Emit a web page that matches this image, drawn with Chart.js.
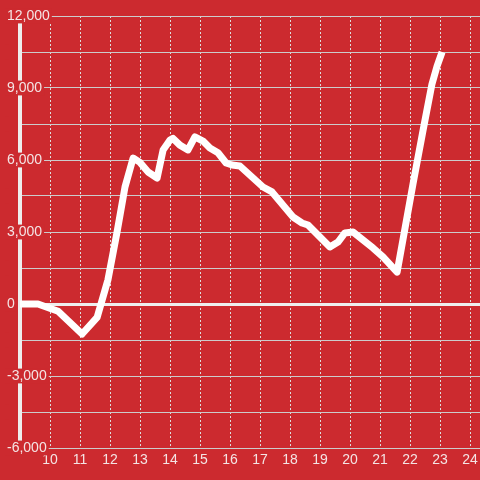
<!DOCTYPE html>
<html>
<head>
<meta charset="utf-8">
<script src="https://cdn.jsdelivr.net/npm/chart.js@4.4.1/dist/chart.umd.min.js"></script>
<style>
	html, body { margin: 0; padding: 0; background: #cc2a2f; }
	#wrap { width: 480px; height: 480px; position: relative; }
</style>
</head>
<body>
<div id="wrap"><canvas id="lineChart"></canvas></div>
<script>
// hour of day and value
const hours = [8.9, 9.6, 10.27, 11.07, 11.57, 11.93, 12.23, 12.5, 12.77, 13.0, 13.27, 13.57, 13.77, 14.0, 14.1, 14.33, 14.6, 14.83,
	15.1, 15.33, 15.6, 15.87, 16.07, 16.33, 17.1, 17.4, 18.1, 18.4, 18.6, 19.33, 19.6, 19.83, 20.1, 20.77, 21.1, 21.57,
	22.1, 22.43, 22.73, 22.9, 23.07];
const values = [0, 0, -300, -1250, -560, 1000, 2960, 4875, 6080, 5900, 5500, 5250, 6420, 6830, 6900, 6620, 6420, 6960,
	6790, 6500, 6300, 5875, 5790, 5750, 4875, 4670, 3625, 3375, 3290, 2375, 2580, 2960, 3000, 2330, 1960, 1330,
	5000, 7200, 9150, 9900, 10500];
const xTicks = [10, 11, 12, 13, 14, 15, 16, 17, 18, 19, 20, 21, 22, 23, 24];
const yTicks = [-6000, -3000, 0, 3000, 6000, 9000, 12000];

const RED = '#cc2a2f';
const TEXT = '#f4e4e4';
const FONT = { family: '"Liberation Sans", Arial, sans-serif', size: 14 };

function buildChart(){
	const CHART = document.getElementById("lineChart");

	new Chart(CHART, {
		type: 'line',
		data: {
			datasets: [
				{
					label: 'value',
					data: hours.map((h, i) => ({ x: h, y: values[i] })),
					borderColor: '#ffffff',
					borderWidth: 7,
					borderCapStyle: 'butt',
					borderJoinStyle: 'round',
					fill: false,
					tension: 0,
					pointRadius: 0,
					pointHoverRadius: 0
				}
			]
		},
		options: {
			responsive: true,
			maintainAspectRatio: false,
			animation: false,
			layout: { padding: { left: 20, top: 16, right: 0, bottom: 0 } },
			plugins: {
				legend: { display: false },
				tooltip: { enabled: false }
			},
			scales: {
				x: {
					type: 'linear',
					min: 9,
					max: 24 + 1 / 3,
					afterBuildTicks: s => { s.ticks = xTicks.map(v => ({ value: v })); },
					afterFit: s => { s.height = 32; s.paddingLeft = 0; s.paddingRight = 0; },
					grid: { color: '#dddddd', lineWidth: 1, drawTicks: false },
					border: { display: false, dash: [2, 2] },
					ticks: { color: TEXT, font: FONT, padding: 4, maxRotation: 0, autoSkip: false }
				},
				y: {
					min: -6000,
					max: 12000,
					afterFit: s => { s.width = 0; s.paddingTop = 0; s.paddingBottom = 0; },
					grid: {
						drawTicks: false,
						color: c => (c.tick && c.tick.value === 0) ? '#eeeeee' : '#cccccc',
						lineWidth: c => (c.tick && c.tick.value === 0) ? 3 : 1
					},
					border: { display: true, color: '#eeeeee', width: 4 },
					ticks: {
						stepSize: 1500,
						mirror: true,
						padding: -13,
						crossAlign: 'near',
						color: TEXT,
						font: FONT,
						showLabelBackdrop: true,
						backdropColor: RED,
						backdropPadding: { left: 2, right: 2, top: -1, bottom: -1 },
						callback: v => yTicks.includes(v) ? v.toLocaleString('en-US') : ''
					}
				}
			}
		}
	});
}

buildChart();
</script>
</body>
</html>
